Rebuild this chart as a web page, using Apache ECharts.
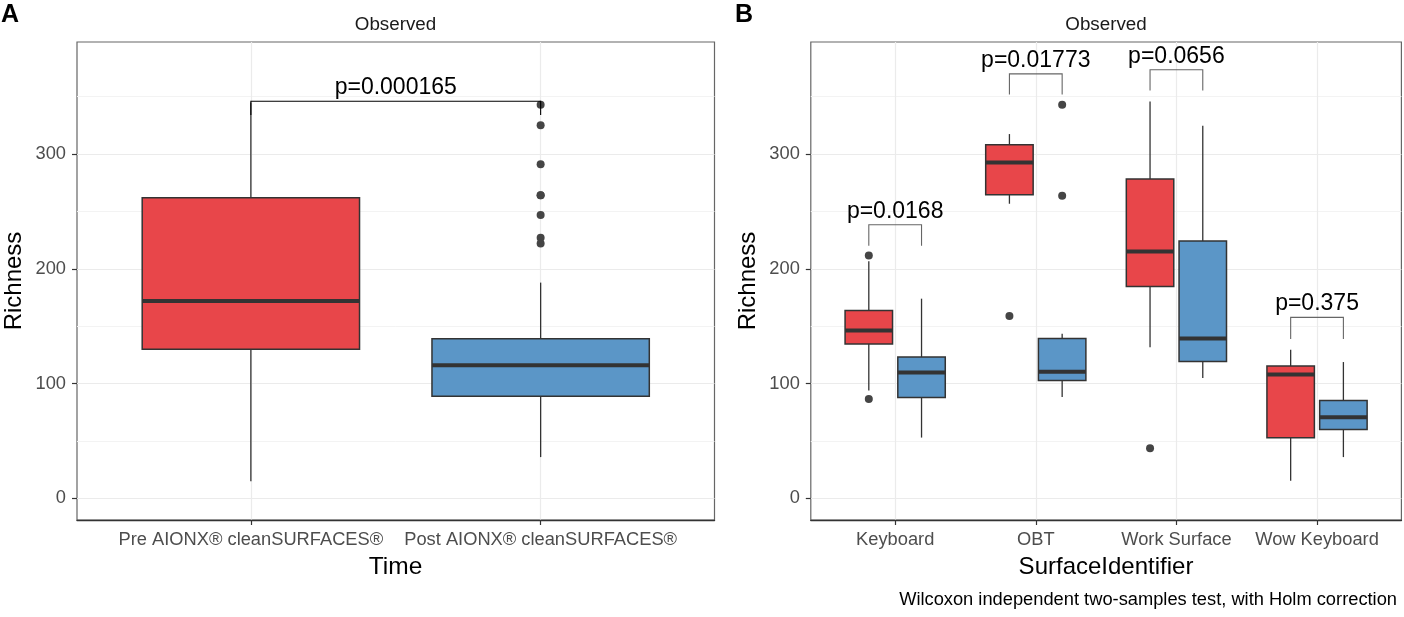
<!DOCTYPE html>
<html>
<head>
<meta charset="utf-8">
<script src="https://cdn.jsdelivr.net/npm/echarts@6/dist/echarts.min.js"></script>
<style>html,body{margin:0;padding:0;background:#fff;}#c{width:1404px;height:617px;}</style>
</head>
<body>
<div id="c"></div>
<script>
// ---------- data ----------
const catsA = ['Pre AIONX® cleanSURFACES®', 'Post AIONX® cleanSURFACES®'];
// [lower whisker, Q1, median, Q3, upper whisker]
const boxA = [[15, 130, 172, 262, 345], [36, 89, 116, 139, 188]];
const outliersA = [[], [343, 325, 291, 264, 264, 247, 227, 222]];
const pLabelA = ['p=0.000165'];
const pBracketA = [[346, 334]]; // [bracket top, tip end]

const catsB = ['Keyboard', 'OBT', 'Work Surface', 'Wow Keyboard'];
const preB = [[94, 134.5, 146.3, 163.8, 206.5], [256.7, 264.5, 292.7, 308.1, 317.4], [131.6, 184.7, 215.2, 278.2, 345.8], [15.4, 52.9, 108, 115.3, 129.5]];
const postB = [[53, 88, 109.8, 123.2, 174], [88.3, 102.8, 110.4, 139.4, 143.5], [104.9, 119.3, 139.4, 224.2, 324.7], [36, 60.1, 70.6, 85.4, 118.8]];
const outPreB = [[211.7, 86.6], [158.9], [43.6], []];
const outPostB = [[], [342.9, 263.7], [], []];
const pLabelB = ['p=0.0168', 'p=0.01773', 'p=0.0656', 'p=0.375'];
const pBracketB = [[238.4, 220], [369.8, 351.8], [373.4, 355.3], [157.7, 138.8]];

const yTicks = [0, 100, 200, 300];
const yRange = [-18.8, 397.6];

// ---------- style ----------
const RED = '#e8464a', BLUE = '#5b96c7', DARK = '#333333';
const FONT = '"Liberation Sans", Arial, Helvetica, sans-serif';
const dodge = 0.1875;

function boxRenderer(color, hw) {
  return function (params, api) {
    const x = api.value(0), lo = api.value(1), q1 = api.value(2), med = api.value(3), q3 = api.value(4), hi = api.value(5);
    const pLo = api.coord([x, lo]), pHi = api.coord([x, hi]);
    const a = api.coord([x - hw, q3]), b = api.coord([x + hw, q1]);
    const m1 = api.coord([x - hw, med]), m2 = api.coord([x + hw, med]);
    return {
      type: 'group', children: [
        { type: 'line', shape: { x1: pLo[0], y1: pLo[1], x2: pLo[0], y2: b[1] }, style: { stroke: DARK, lineWidth: 1.3 } },
        { type: 'line', shape: { x1: pHi[0], y1: pHi[1], x2: pHi[0], y2: a[1] }, style: { stroke: DARK, lineWidth: 1.3 } },
        { type: 'rect', shape: { x: a[0], y: a[1], width: b[0] - a[0], height: b[1] - a[1] }, style: { fill: color, stroke: DARK, lineWidth: 1.5 } },
        { type: 'line', shape: { x1: m1[0], y1: m1[1], x2: m2[0], y2: m2[1] }, style: { stroke: DARK, lineWidth: 4 } }
      ]
    };
  };
}
function bracketRenderer(labels, stroke) {
  return function (params, api) {
    const x1 = api.value(0), x2 = api.value(1), top = api.value(2), tip = api.value(3);
    const p1 = api.coord([x1, tip]), p2 = api.coord([x1, top]), p3 = api.coord([x2, top]), p4 = api.coord([x2, tip]);
    return {
      type: 'group', children: [
        { type: 'polyline', shape: { points: [p1, p2, p3, p4] }, style: { stroke: stroke, lineWidth: 1.1, fill: null } },
        { type: 'text', x: (p2[0] + p3[0]) / 2, y: p2[1] - 2, style: { text: labels[params.dataIndex], fontSize: 23, fontFamily: FONT, fill: '#000', align: 'center', verticalAlign: 'bottom' } }
      ]
    };
  };
}

function xAxisCfg(grid, cats) {
  const vals = cats.map((c, i) => i + 1);
  return {
    gridIndex: grid, type: 'value', min: 0.4, max: cats.length + 0.6, minInterval: 1, maxInterval: 1,
    splitLine: { show: true, lineStyle: { color: '#ebebeb', width: 1.2 } },
    axisLine: { show: true, onZero: false, lineStyle: { color: DARK, width: 1.4 } },
    axisTick: { show: true, length: 5, customValues: vals, lineStyle: { color: DARK, width: 1.2 } },
    axisLabel: { customValues: vals, formatter: v => cats[Math.round(v) - 1] || '', color: '#4d4d4d', fontSize: 18.3, fontFamily: FONT, margin: 11 }
  };
}
function yAxisCfg(grid) {
  return {
    gridIndex: grid, type: 'value', min: yRange[0], max: yRange[1], minInterval: 100, maxInterval: 100,
    splitLine: { show: true, lineStyle: { color: '#ebebeb', width: 1.2 } },
    minorTick: { show: false, splitNumber: 2 },
    minorSplitLine: { show: true, lineStyle: { color: '#f3f3f3', width: 1 } },
    axisLine: { show: false, onZero: false },
    axisTick: { show: true, length: 5, customValues: yTicks, lineStyle: { color: DARK, width: 1.2 } },
    axisLabel: { customValues: yTicks, color: '#4d4d4d', fontSize: 18.3, fontFamily: FONT, margin: 11 }
  };
}

const outA = [];
outliersA.forEach((arr, i) => arr.forEach(v => outA.push([i + 1, v])));
const outB = [];
outPreB.forEach((arr, i) => arr.forEach(v => outB.push([i + 1 - dodge, v])));
outPostB.forEach((arr, i) => arr.forEach(v => outB.push([i + 1 + dodge, v])));

const txt = (t, x, y, size, opts) => Object.assign({
  type: 'text', x: x, y: y, style: Object.assign({ text: t, fontSize: size, fontFamily: FONT, fill: '#000', align: 'center', verticalAlign: 'middle' }, (opts && opts.style) || {})
}, (opts && opts.el) || {});

const chart = echarts.init(document.getElementById('c'), null, { renderer: 'canvas' });
chart.setOption({
  backgroundColor: '#ffffff',
  animation: false,
  grid: [
    { left: 77, right: 689.5, top: 42, bottom: 97, show: true, borderColor: '#666', borderWidth: 1.2, backgroundColor: '#fff' },
    { left: 810.8, right: 2.6, top: 42, bottom: 97, show: true, borderColor: '#666', borderWidth: 1.2, backgroundColor: '#fff' }
  ],
  xAxis: [xAxisCfg(0, catsA), xAxisCfg(1, catsB)],
  yAxis: [yAxisCfg(0), yAxisCfg(1)],
  series: [
    { type: 'custom', xAxisIndex: 0, yAxisIndex: 0, renderItem: boxRenderer(RED, 0.375), data: [[1, ...boxA[0]]], clip: false },
    { type: 'custom', xAxisIndex: 0, yAxisIndex: 0, renderItem: boxRenderer(BLUE, 0.375), data: [[2, ...boxA[1]]], clip: false },
    { type: 'scatter', xAxisIndex: 0, yAxisIndex: 0, data: outA, symbolSize: 8, itemStyle: { color: '#454545', opacity: 1 }, z: 3 },
    { type: 'custom', xAxisIndex: 0, yAxisIndex: 0, renderItem: bracketRenderer(pLabelA, '#000'), data: pBracketA.map(b => [1, 2, b[0], b[1]]), clip: false, z: 4 },

    { type: 'custom', xAxisIndex: 1, yAxisIndex: 1, renderItem: boxRenderer(RED, 0.16875), data: preB.map((s, i) => [i + 1 - dodge, ...s]), clip: false },
    { type: 'custom', xAxisIndex: 1, yAxisIndex: 1, renderItem: boxRenderer(BLUE, 0.16875), data: postB.map((s, i) => [i + 1 + dodge, ...s]), clip: false },
    { type: 'scatter', xAxisIndex: 1, yAxisIndex: 1, data: outB, symbolSize: 8, itemStyle: { color: '#454545', opacity: 1 }, z: 3 },
    { type: 'custom', xAxisIndex: 1, yAxisIndex: 1, renderItem: bracketRenderer(pLabelB, '#666'), data: pBracketB.map((b, i) => [i + 1 - dodge, i + 1 + dodge, b[0], b[1]]), clip: false, z: 4 }
  ],
  graphic: [
    txt('A', 1, 15.5, 25, { style: { fontWeight: 'bold', align: 'left' } }),
    txt('B', 735, 15.5, 25, { style: { fontWeight: 'bold', align: 'left' } }),
    txt('Observed', 395.5, 24.5, 18.8, { style: { fill: '#1a1a1a' } }),
    txt('Observed', 1106, 24.5, 18.8, { style: { fill: '#1a1a1a' } }),
    txt('Richness', 14, 281, 24, { el: { rotation: Math.PI / 2 } }),
    txt('Richness', 748, 281, 24, { el: { rotation: Math.PI / 2 } }),
    txt('Time', 395.5, 567, 24.5),
    txt('SurfaceIdentifier', 1106, 567, 24),
    txt('Wilcoxon independent two-samples test, with Holm correction', 1397, 600, 18.3, { style: { align: 'right' } })
  ]
});
</script>
</body>
</html>
